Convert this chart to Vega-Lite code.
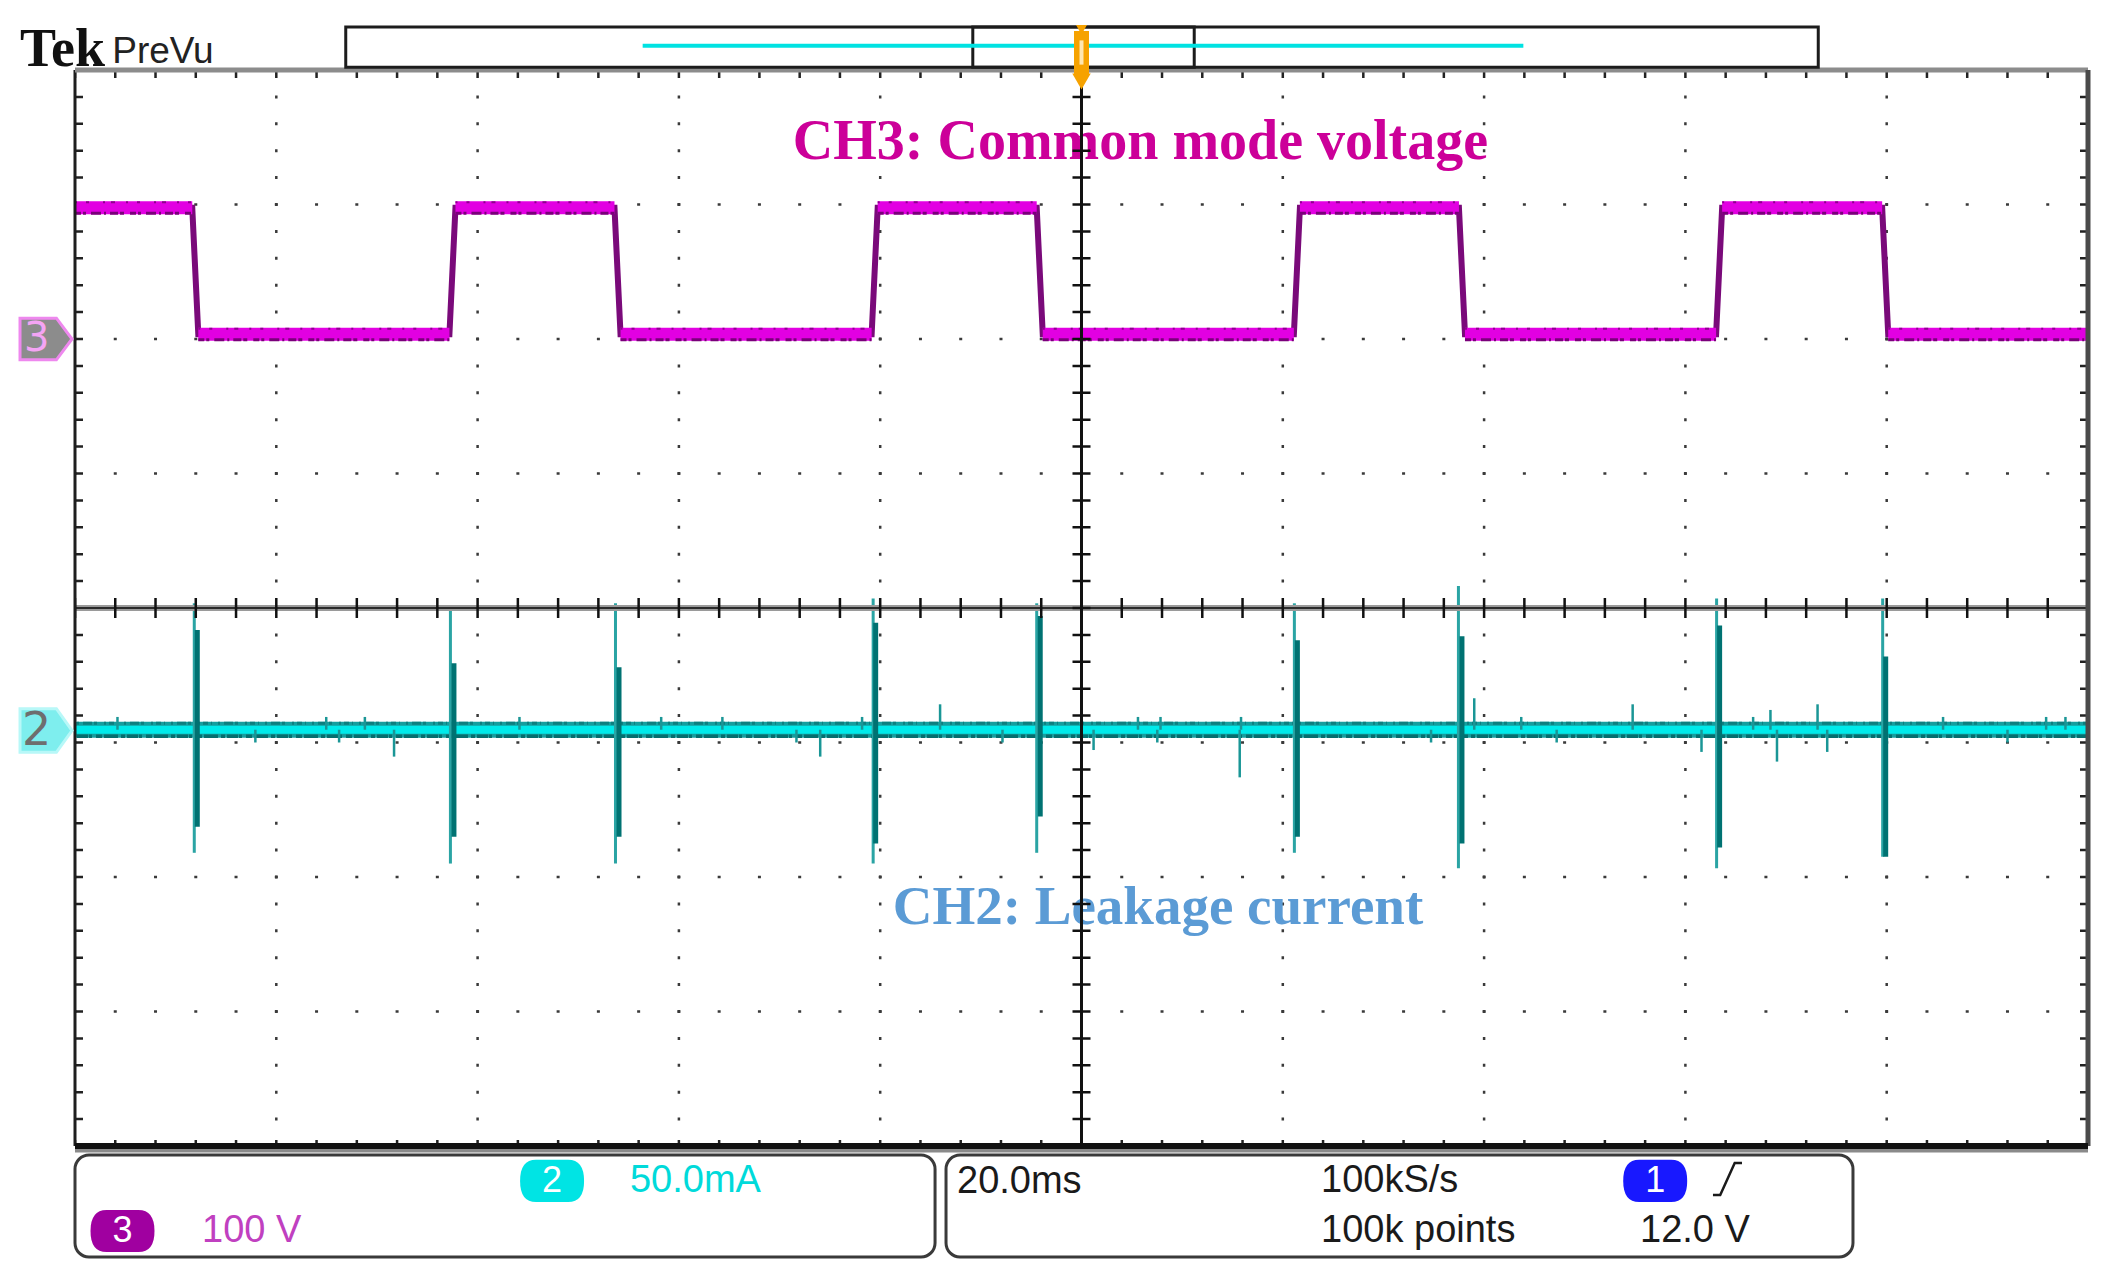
{
 "$schema": "https://vega.github.io/schema/vega-lite/v6.json",
 "width": 2013,
 "height": 1076,
 "autosize": {"type": "none"},
 "padding": {"left": 75, "top": 70, "right": 22, "bottom": 140},
 "background": "#ffffff",
 "config": {"view": {"stroke": null}, "axis": {"disable": true}},
 "data": {"values": [{}]},
 "datasets": {
  "ch3": [
   {"t": -100, "v": 2.975}, {"t": -88.35, "v": 2.975}, {"t": -87.75, "v": 2.035},
   {"t": -62.8, "v": 2.035}, {"t": -62.2, "v": 2.975}, {"t": -46.4, "v": 2.975},
   {"t": -45.8, "v": 2.035}, {"t": -20.85, "v": 2.035}, {"t": -20.25, "v": 2.975},
   {"t": -4.45, "v": 2.975}, {"t": -3.85, "v": 2.035}, {"t": 21.1, "v": 2.035},
   {"t": 21.7, "v": 2.975}, {"t": 37.5, "v": 2.975}, {"t": 38.1, "v": 2.035},
   {"t": 63.05, "v": 2.035}, {"t": 63.65, "v": 2.975}, {"t": 79.55, "v": 2.975},
   {"t": 80.15, "v": 2.035}, {"t": 100, "v": 2.035}
  ],
  "spikes_outer": [
   {"t": -88.15, "lo": -1.82, "hi": 0.035}, {"t": -62.7, "lo": -1.9, "hi": -0.015},
   {"t": -46.3, "lo": -1.9, "hi": 0.035}, {"t": -20.7, "lo": -1.9, "hi": 0.07},
   {"t": -4.45, "lo": -1.82, "hi": 0.035}, {"t": 21.15, "lo": -1.82, "hi": 0.035},
   {"t": 37.45, "lo": -1.935, "hi": 0.164}, {"t": 63.1, "lo": -1.935, "hi": 0.07},
   {"t": 79.6, "lo": -1.85, "hi": 0.07}
  ],
  "spikes_core": [
   {"t": -87.85, "lo": -1.626, "hi": -0.164}, {"t": -62.35, "lo": -1.7, "hi": -0.41},
   {"t": -45.95, "lo": -1.7, "hi": -0.44}, {"t": -20.45, "lo": -1.75, "hi": -0.11},
   {"t": -4.1, "lo": -1.55, "hi": -0.06}, {"t": 21.45, "lo": -1.7, "hi": -0.24},
   {"t": 37.8, "lo": -1.75, "hi": -0.21}, {"t": 63.4, "lo": -1.78, "hi": -0.13},
   {"t": 79.9, "lo": -1.85, "hi": -0.36}
  ],
  "glitches": [
   {"t": -95.78, "lo": -0.905, "hi": -0.81}, {"t": -75.04, "lo": -0.905, "hi": -0.81},
   {"t": -71.2, "lo": -0.905, "hi": -0.81}, {"t": -55.84, "lo": -0.905, "hi": -0.81},
   {"t": -41.76, "lo": -0.905, "hi": -0.81}, {"t": -35.68, "lo": -0.905, "hi": -0.81},
   {"t": -21.8, "lo": -0.905, "hi": -0.81}, {"t": -14.05, "lo": -0.905, "hi": -0.716},
   {"t": 5.61, "lo": -0.905, "hi": -0.81}, {"t": 7.85, "lo": -0.905, "hi": -0.81},
   {"t": 15.85, "lo": -0.905, "hi": -0.81}, {"t": 39.02, "lo": -0.905, "hi": -0.671},
   {"t": 43.69, "lo": -0.905, "hi": -0.81}, {"t": 54.76, "lo": -0.905, "hi": -0.716},
   {"t": 66.73, "lo": -0.905, "hi": -0.81}, {"t": 68.45, "lo": -0.905, "hi": -0.758},
   {"t": 73.13, "lo": -0.905, "hi": -0.716}, {"t": 85.6, "lo": -0.905, "hi": -0.81},
   {"t": 95.84, "lo": -0.905, "hi": -0.81}, {"t": 97.76, "lo": -0.905, "hi": -0.81},
   {"t": -82.08, "lo": -1.0, "hi": -0.905}, {"t": -73.76, "lo": -1.0, "hi": -0.905},
   {"t": -68.3, "lo": -1.105, "hi": -0.905}, {"t": -28.32, "lo": -1.0, "hi": -0.905},
   {"t": -25.96, "lo": -1.105, "hi": -0.905}, {"t": -7.85, "lo": -1.0, "hi": -0.905},
   {"t": 1.2, "lo": -1.056, "hi": -0.905}, {"t": 7.53, "lo": -1.0, "hi": -0.905},
   {"t": 15.72, "lo": -1.259, "hi": -0.905}, {"t": 34.73, "lo": -1.0, "hi": -0.905},
   {"t": 47.21, "lo": -1.0, "hi": -0.905}, {"t": 61.6, "lo": -1.07, "hi": -0.905},
   {"t": 69.1, "lo": -1.142, "hi": -0.905}, {"t": 74.09, "lo": -1.07, "hi": -0.905},
   {"t": 92.0, "lo": -1.0, "hi": -0.905}
  ]
 },
 "layer": [
  {"data": {"values": [{"t": -80}, {"t": -60}, {"t": -40}, {"t": -20}, {"t": 20}, {"t": 40}, {"t": 60}, {"t": 80}]},
   "mark": {"type": "rule", "color": "#3a3a3a", "strokeWidth": 2.5, "strokeDash": [3, 23.9], "strokeDashOffset": 1.5},
   "encoding": {"x": {"field": "t", "type": "quantitative", "scale": {"domain": [-100, 100], "nice": false, "zero": false}, "axis": null}}},
  {"data": {"values": [{"v": -3}, {"v": -2}, {"v": -1}, {"v": 1}, {"v": 2}, {"v": 3}]},
   "mark": {"type": "rule", "color": "#3a3a3a", "strokeWidth": 2.5, "strokeDash": [3, 37.26], "strokeDashOffset": 1.5},
   "encoding": {"y": {"field": "v", "type": "quantitative", "scale": {"domain": [-4, 4], "nice": false, "zero": false}, "axis": null}}},
  {"mark": {"type": "rule", "color": "#222222", "strokeWidth": 16, "strokeDash": [2.5, 37.76], "strokeDashOffset": 1.25, "clip": true},
   "encoding": {"y": {"datum": 4}}},
  {"mark": {"type": "rule", "color": "#222222", "strokeWidth": 12, "strokeDash": [2.5, 37.76], "strokeDashOffset": 1.25, "clip": true},
   "encoding": {"y": {"datum": -4}}},
  {"mark": {"type": "rule", "color": "#222222", "strokeWidth": 16, "strokeDash": [2.5, 24.4], "strokeDashOffset": 1.25, "clip": true},
   "encoding": {"x": {"datum": -100}}},
  {"mark": {"type": "rule", "color": "#222222", "strokeWidth": 16, "strokeDash": [2.5, 24.4], "strokeDashOffset": 1.25, "clip": true},
   "encoding": {"x": {"datum": 100}}},

  {"mark": {"type": "rule", "color": "#159e9e", "strokeWidth": 16}, "encoding": {"y": {"datum": -0.905}}},
  {"mark": {"type": "rule", "color": "#00eaea", "strokeWidth": 8}, "encoding": {"y": {"datum": -0.905}}},
  {"mark": {"type": "rule", "color": "#0d7f7f", "strokeWidth": 3, "yOffset": -6.5, "strokeDash": [5, 3, 2, 7, 3, 2, 9, 4, 2, 6, 1, 3]}, "encoding": {"y": {"datum": -0.905}}},
  {"mark": {"type": "rule", "color": "#056e6e", "strokeWidth": 3.5, "yOffset": 6.5, "strokeDash": [11, 2, 4, 3, 14, 2, 6, 4, 3, 1]}, "encoding": {"y": {"datum": -0.905}}},
  {"data": {"name": "glitches"},
   "mark": {"type": "rule", "color": "#1a9696", "strokeWidth": 2.5},
   "encoding": {"x": {"field": "t", "type": "quantitative"}, "y": {"field": "lo", "type": "quantitative"}, "y2": {"field": "hi"}}},
  {"data": {"name": "spikes_outer"},
   "mark": {"type": "rule", "color": "#2aa4a4", "strokeWidth": 3},
   "encoding": {"x": {"field": "t", "type": "quantitative"}, "y": {"field": "lo", "type": "quantitative"}, "y2": {"field": "hi"}}},
  {"data": {"name": "spikes_core"},
   "mark": {"type": "rule", "color": "#007272", "strokeWidth": 5},
   "encoding": {"x": {"field": "t", "type": "quantitative"}, "y": {"field": "lo", "type": "quantitative"}, "y2": {"field": "hi"}}},

  {"data": {"name": "ch3"},
   "mark": {"type": "line", "color": "#7a0a7a", "strokeWidth": 6},
   "encoding": {"x": {"field": "t", "type": "quantitative"}, "y": {"field": "v", "type": "quantitative"}}},
  {"data": {"name": "ch3"},
   "transform": [
    {"window": [{"op": "lead", "field": "t", "as": "t2"}, {"op": "lead", "field": "v", "as": "v2"}], "sort": [{"field": "t", "order": "ascending"}]},
    {"filter": "datum.v2 != null && datum.v === datum.v2"}
   ],
   "mark": {"type": "rule", "color": "#e200e2", "strokeWidth": 13},
   "encoding": {"x": {"field": "t", "type": "quantitative"}, "x2": {"field": "t2"}, "y": {"field": "v", "type": "quantitative"}}},
  {"data": {"name": "ch3"},
   "transform": [
    {"window": [{"op": "lead", "field": "t", "as": "t2"}, {"op": "lead", "field": "v", "as": "v2"}], "sort": [{"field": "t", "order": "ascending"}]},
    {"filter": "datum.v2 != null && datum.v === datum.v2"}
   ],
   "mark": {"type": "rule", "color": "#7a007a", "strokeWidth": 3, "yOffset": 5.5, "strokeDash": [6, 2, 3, 5, 10, 3, 2, 4, 8, 2, 4, 6]},
   "encoding": {"x": {"field": "t", "type": "quantitative"}, "x2": {"field": "t2"}, "y": {"field": "v", "type": "quantitative"}}},
  {"data": {"name": "ch3"},
   "transform": [
    {"window": [{"op": "lead", "field": "t", "as": "t2"}, {"op": "lead", "field": "v", "as": "v2"}], "sort": [{"field": "t", "order": "ascending"}]},
    {"filter": "datum.v2 != null && datum.v === datum.v2"}
   ],
   "mark": {"type": "rule", "color": "#8e008e", "strokeWidth": 2, "yOffset": -5.5, "strokeDash": [2, 9, 3, 14, 2, 6, 4, 11]},
   "encoding": {"x": {"field": "t", "type": "quantitative"}, "x2": {"field": "t2"}, "y": {"field": "v", "type": "quantitative"}}},

  {"mark": {"type": "text", "text": "CH3: Common mode voltage", "font": "Liberation Serif", "fontWeight": "bold", "fontSize": 56, "fill": "#cc0099", "align": "center", "baseline": "alphabetic"},
   "encoding": {"x": {"datum": 5.86}, "y": {"datum": 3.34}}},
  {"mark": {"type": "text", "text": "CH2: Leakage current", "font": "Liberation Serif", "fontWeight": "bold", "fontSize": 55, "fill": "#5b9bd5", "align": "center", "baseline": "alphabetic"},
   "encoding": {"x": {"datum": 7.6}, "y": {"datum": -2.35}}},

  {"mark": {"type": "rule", "color": "#9a9a9a", "strokeWidth": 6}, "encoding": {"y": {"datum": 0}}},
  {"mark": {"type": "rule", "color": "#2a2a2a", "strokeWidth": 2}, "encoding": {"y": {"datum": 0}}},
  {"mark": {"type": "rule", "color": "#111111", "strokeWidth": 3}, "encoding": {"x": {"datum": 0}}},
  {"mark": {"type": "rule", "color": "#111111", "strokeWidth": 20, "strokeDash": [2.5, 37.76], "strokeDashOffset": 1.25}, "encoding": {"y": {"datum": 0}}},
  {"mark": {"type": "rule", "color": "#111111", "strokeWidth": 18, "strokeDash": [2.5, 24.4], "strokeDashOffset": 1.25}, "encoding": {"x": {"datum": 0}}},

  {"mark": {"type": "rule", "color": "#1e1e1e", "strokeWidth": 3}, "encoding": {"x": {"datum": -100}}},
  {"mark": {"type": "rule", "color": "#8c8c8c", "strokeWidth": 5}, "encoding": {"y": {"datum": 4}}},
  {"mark": {"type": "rule", "color": "#4a4a4a", "strokeWidth": 5}, "encoding": {"x": {"datum": 100}}},
  {"mark": {"type": "rule", "color": "#8a8a8a", "strokeWidth": 9, "yOffset": 2}, "encoding": {"y": {"datum": -4}}},
  {"mark": {"type": "rule", "color": "#111111", "strokeWidth": 6}, "encoding": {"y": {"datum": -4}}},

  {"mark": {"type": "rect", "fill": "#ffffff", "stroke": "#1c1c1c", "strokeWidth": 3},
   "encoding": {"x": {"datum": -73.1}, "x2": {"datum": 73.2}, "y": {"datum": 4.02}, "y2": {"datum": 4.32}}},
  {"mark": {"type": "rect", "fillOpacity": 0, "stroke": "#1c1c1c", "strokeWidth": 3},
   "encoding": {"x": {"datum": -10.8}, "x2": {"datum": 11.2}, "y": {"datum": 4.02}, "y2": {"datum": 4.32}}},
  {"mark": {"type": "rule", "color": "#00e2e2", "strokeWidth": 4},
   "encoding": {"x": {"datum": -43.6}, "x2": {"datum": 43.9}, "y": {"datum": 4.18}}},
  {"mark": {"type": "rule", "color": "#f6a200", "strokeWidth": 15},
   "encoding": {"x": {"datum": 0}, "y": {"datum": 3.97}, "y2": {"datum": 4.29}}},
  {"mark": {"type": "rule", "color": "#ffe6b0", "strokeWidth": 4},
   "encoding": {"x": {"datum": 0}, "y": {"datum": 4.04}, "y2": {"datum": 4.22}}},
  {"mark": {"type": "point", "shape": "triangle-down", "size": 340, "filled": true, "fill": "#f6a200", "opacity": 1},
   "encoding": {"x": {"datum": 0}, "y": {"datum": 3.915}}},
  {"mark": {"type": "point", "shape": "triangle-down", "size": 120, "filled": true, "fill": "#f6a200", "opacity": 1},
   "encoding": {"x": {"datum": 0}, "y": {"datum": 4.3}}},
  {"mark": {"type": "text", "text": "Tek", "font": "Liberation Serif", "fontWeight": "bold", "fontSize": 54, "fill": "#111111", "align": "left", "baseline": "alphabetic"},
   "encoding": {"x": {"datum": -105.46}, "y": {"datum": 4.03}}},
  {"mark": {"type": "text", "text": "PreVu", "font": "Liberation Sans", "fontSize": 37, "fill": "#222222", "align": "left", "baseline": "alphabetic"},
   "encoding": {"x": {"datum": -96.3}, "y": {"datum": 4.052}}},

  {"mark": {"type": "rect", "fill": "#ffffff", "stroke": "#3a3a3a", "strokeWidth": 3, "cornerRadius": 14},
   "encoding": {"x": {"datum": -100}, "x2": {"datum": -14.55}, "y": {"datum": -4.067}, "y2": {"datum": -4.825}}},
  {"mark": {"type": "rect", "fill": "#ffffff", "stroke": "#3a3a3a", "strokeWidth": 3, "cornerRadius": 14},
   "encoding": {"x": {"datum": -13.46}, "x2": {"datum": 76.65}, "y": {"datum": -4.067}, "y2": {"datum": -4.825}}},
  {"mark": {"type": "point", "shape": "M-0.5,-0.66 L0.5,-0.66 Q1,-0.66 1,0 Q1,0.66 0.5,0.66 L-0.5,0.66 Q-1,0.66 -1,0 Q-1,-0.66 -0.5,-0.66 Z", "size": 4096, "filled": true, "fill": "#00e4e4", "opacity": 1},
   "encoding": {"x": {"datum": -52.6}, "y": {"datum": -4.26}}},
  {"mark": {"type": "point", "shape": "M-0.5,-0.66 L0.5,-0.66 Q1,-0.66 1,0 Q1,0.66 0.5,0.66 L-0.5,0.66 Q-1,0.66 -1,0 Q-1,-0.66 -0.5,-0.66 Z", "size": 4096, "filled": true, "fill": "#a000a0", "opacity": 1},
   "encoding": {"x": {"datum": -95.28}, "y": {"datum": -4.632}}},
  {"mark": {"type": "point", "shape": "M-0.5,-0.66 L0.5,-0.66 Q1,-0.66 1,0 Q1,0.66 0.5,0.66 L-0.5,0.66 Q-1,0.66 -1,0 Q-1,-0.66 -0.5,-0.66 Z", "size": 4096, "filled": true, "fill": "#1818ff", "opacity": 1},
   "encoding": {"x": {"datum": 57.0}, "y": {"datum": -4.26}}},
  {"mark": {"type": "text", "text": "2", "font": "Liberation Sans", "fontSize": 36, "fill": "#ffffff", "align": "center", "baseline": "middle"},
   "encoding": {"x": {"datum": -52.6}, "y": {"datum": -4.26}}},
  {"mark": {"type": "text", "text": "3", "font": "Liberation Sans", "fontSize": 36, "fill": "#ffffff", "align": "center", "baseline": "middle"},
   "encoding": {"x": {"datum": -95.28}, "y": {"datum": -4.632}}},
  {"mark": {"type": "text", "text": "1", "font": "Liberation Sans", "fontSize": 36, "fill": "#ffffff", "align": "center", "baseline": "middle"},
   "encoding": {"x": {"datum": 57.0}, "y": {"datum": -4.26}}},
  {"mark": {"type": "text", "text": "50.0mA", "font": "Liberation Sans", "fontSize": 38, "fill": "#00dada", "align": "left", "baseline": "middle"},
   "encoding": {"x": {"datum": -44.86}, "y": {"datum": -4.26}}},
  {"mark": {"type": "text", "text": "100 V", "font": "Liberation Sans", "fontSize": 38, "fill": "#c040c0", "align": "left", "baseline": "middle"},
   "encoding": {"x": {"datum": -87.38}, "y": {"datum": -4.632}}},
  {"mark": {"type": "text", "text": "20.0ms", "font": "Liberation Sans", "fontSize": 38, "fill": "#1a1a1a", "align": "left", "baseline": "middle"},
   "encoding": {"x": {"datum": -12.37}, "y": {"datum": -4.27}}},
  {"mark": {"type": "text", "text": "100kS/s", "font": "Liberation Sans", "fontSize": 38, "fill": "#1a1a1a", "align": "left", "baseline": "middle"},
   "encoding": {"x": {"datum": 23.8}, "y": {"datum": -4.26}}},
  {"mark": {"type": "text", "text": "100k points", "font": "Liberation Sans", "fontSize": 38, "fill": "#1a1a1a", "align": "left", "baseline": "middle"},
   "encoding": {"x": {"datum": 23.8}, "y": {"datum": -4.632}}},
  {"mark": {"type": "text", "text": "12.0 V", "font": "Liberation Sans", "fontSize": 38, "fill": "#1a1a1a", "align": "left", "baseline": "middle"},
   "encoding": {"x": {"datum": 55.49}, "y": {"datum": -4.632}}},
  {"mark": {"type": "point", "shape": "M-1,1.1 L-0.5,1.1 L0.5,-1.1 L1,-1.1", "size": 841, "filled": false, "fill": null, "stroke": "#1a1a1a", "strokeWidth": 2.5, "opacity": 1},
   "encoding": {"x": {"datum": 64.18}, "y": {"datum": -4.245}}},

  {"mark": {"type": "point", "shape": "M-1,-0.8 L0.4,-0.8 L1,0 L0.4,0.8 L-1,0.8 Z", "size": 2704, "filled": true, "fill": "#8c8c8c", "stroke": "#ee88ee", "strokeWidth": 3, "opacity": 1},
   "encoding": {"x": {"datum": -102.88}, "y": {"datum": 2.0}}},
  {"mark": {"type": "text", "text": "3", "font": "DejaVu Sans", "fontSize": 40, "fill": "#f4a4f4", "align": "center", "baseline": "middle"},
   "encoding": {"x": {"datum": -103.8}, "y": {"datum": 2.0}}},
  {"mark": {"type": "point", "shape": "M-1,-0.84 L0.4,-0.84 L1,0 L0.4,0.84 L-1,0.84 Z", "size": 2704, "filled": true, "fill": "#7eeeee", "stroke": "#b8f8f8", "strokeWidth": 3, "opacity": 1},
   "encoding": {"x": {"datum": -102.88}, "y": {"datum": -0.911}}},
  {"mark": {"type": "text", "text": "2", "font": "DejaVu Sans", "fontSize": 46, "fill": "#6e6e6e", "align": "center", "baseline": "middle"},
   "encoding": {"x": {"datum": -103.8}, "y": {"datum": -0.911}}}
 ]
}
